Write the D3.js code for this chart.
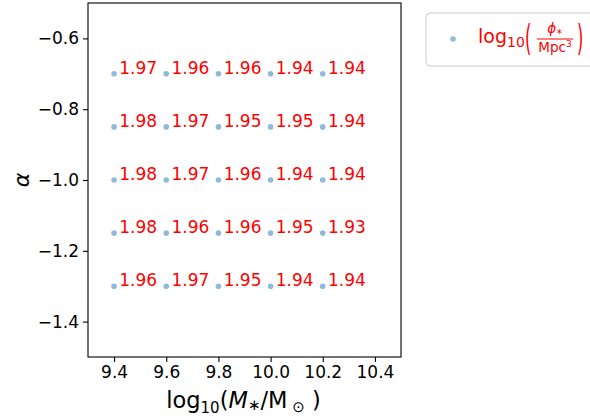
<!DOCTYPE html>
<html lang="en">
<head>
<meta charset="utf-8">
<title>alpha vs mass</title>
<script src="https://d3js.org/d3.v7.min.js"></script>
<style>
  body { margin: 0; background: #fff; }
  text { font-family: "DejaVu Sans", sans-serif; }
</style>
</head>
<body>
<script>
// grid of fitted values
var masses = [9.4, 9.6, 9.8, 10.0, 10.2];
var alphas = [-0.7, -0.85, -1.0, -1.15, -1.3];
var phiRows = [
  [1.97, 1.96, 1.96, 1.94, 1.94],
  [1.98, 1.97, 1.95, 1.95, 1.94],
  [1.98, 1.97, 1.96, 1.94, 1.94],
  [1.98, 1.96, 1.96, 1.95, 1.93],
  [1.96, 1.97, 1.95, 1.94, 1.94]
];
var xTicks = [9.4, 9.6, 9.8, 10.0, 10.2, 10.4];
var yTicks = [-1.4, -1.2, -1.0, -0.8, -0.6];

var width = 590, height = 417;
var margin = {top: 3, right: 189, bottom: 60, left: 88};
var w = width - margin.left - margin.right;
var h = height - margin.top - margin.bottom;

var svg = d3.select("body").append("svg")
  .attr("width", width).attr("height", height);

var g = svg.append("g")
  .attr("transform", "translate(" + margin.left + "," + margin.top + ")");

var x = d3.scaleLinear().domain([9.3, 10.5]).range([0, w]);
var y = d3.scaleLinear().domain([-1.5, -0.5]).range([h, 0]);

// axes
var xAxis = g.append("g")
  .attr("transform", "translate(0," + h + ")")
  .call(d3.axisBottom(x).tickValues(xTicks).tickFormat(d3.format(".1f")).tickSize(5).tickPadding(4));
var yAxis = g.append("g")
  .call(d3.axisLeft(y).tickValues(yTicks).tickFormat(d3.format(".1f")).tickSize(5).tickPadding(4));
[xAxis, yAxis].forEach(function(a) {
  a.select(".domain").remove();
  a.selectAll("line").attr("stroke", "#000").attr("stroke-width", 1.1);
  a.selectAll("text").attr("font-size", "17px").attr("fill", "#000")
    .style("font-family", "DejaVu Sans");
});

// frame
g.append("rect")
  .attr("x", 0).attr("y", 0).attr("width", w).attr("height", h)
  .attr("fill", "none").attr("stroke", "#000").attr("stroke-width", 1.1);

// points and labels
var cells = [];
alphas.forEach(function(a, i) {
  masses.forEach(function(m, j) {
    cells.push({m: m, a: a, v: phiRows[i][j]});
  });
});

g.selectAll("circle.pt").data(cells).enter().append("circle")
  .attr("class", "pt")
  .attr("cx", function(d) { return x(d.m); })
  .attr("cy", function(d) { return y(d.a); })
  .attr("r", 2.8)
  .attr("fill", "#1f77b4").attr("fill-opacity", 0.5);

g.selectAll("text.val").data(cells).enter().append("text")
  .attr("class", "val")
  .attr("x", function(d) { return x(d.m + 0.02); })
  .attr("y", function(d) { return y(d.a); })
  .attr("font-size", "17px")
  .attr("fill", "red")
  .text(function(d) { return d.v.toFixed(2); });

// x label
var xl = svg.append("text")
  .attr("x", margin.left + w / 2 - 1).attr("y", 408)
  .attr("text-anchor", "middle").attr("font-size", "22.5px").attr("fill", "#000");
xl.append("tspan").text("log");
xl.append("tspan").attr("dy", 5).attr("font-size", "15px").text("10");
xl.append("tspan").attr("dy", -5).text("(");
xl.append("tspan").attr("font-style", "italic").text("M");
xl.append("tspan").attr("dy", 2).attr("font-size", "15px").text("\u2217");
xl.append("tspan").attr("dy", -2).text("/M");
xl.append("tspan").attr("dy", 4).attr("font-size", "15px").text(" \u2299");
xl.append("tspan").attr("dy", -4).text(" )");

// y label
svg.append("text")
  .attr("transform", "translate(29," + (margin.top + h / 2) + ") rotate(-90)")
  .attr("text-anchor", "middle").attr("font-size", "22px").attr("font-style", "italic")
  .attr("fill", "#000").text("\u03b1");

// legend
var lg = svg.append("g").attr("transform", "translate(426,13)");
lg.append("rect")
  .attr("x", 0).attr("y", 0).attr("width", 180).attr("height", 53)
  .attr("rx", 4).attr("fill", "#fff").attr("stroke", "#ccc").attr("stroke-width", 1);
lg.append("circle").attr("cx", 27).attr("cy", 26).attr("r", 2.8)
  .attr("fill", "#1f77b4").attr("fill-opacity", 0.5);
var lt = lg.append("text").attr("x", 52).attr("y", 30).attr("font-size", "19px").attr("fill", "red");
lt.append("tspan").text("log");
lt.append("tspan").attr("dy", 4).attr("font-size", "14px").text("10");
lg.append("text").attr("transform", "translate(99,37) scale(0.65,1.45)")
  .attr("font-size", "25px").attr("fill", "red").text("(");
lg.append("text").attr("x", 129).attr("y", 20).attr("text-anchor", "middle")
  .attr("font-size", "13.5px").attr("fill", "red")
  .html('<tspan font-style="italic">\u03d5</tspan><tspan dy="1" font-size="8px">\u2217</tspan>');
lg.append("line").attr("x1", 111).attr("x2", 147).attr("y1", 26).attr("y2", 26)
  .attr("stroke", "red").attr("stroke-width", 1.2);
lg.append("text").attr("x", 129).attr("y", 39).attr("text-anchor", "middle")
  .attr("font-size", "13.5px").attr("fill", "red")
  .html('Mpc<tspan dy="-5" font-size="9px">3</tspan>');
lg.append("text").attr("transform", "translate(151,37) scale(0.65,1.45)")
  .attr("font-size", "25px").attr("fill", "red").text(")");
</script>
</body>
</html>
